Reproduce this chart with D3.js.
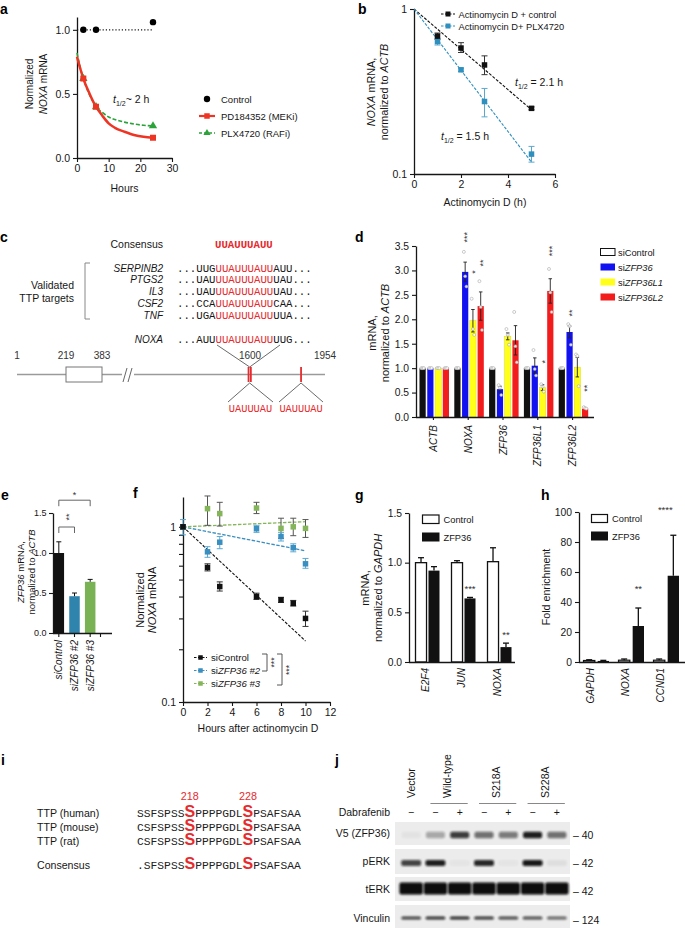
<!DOCTYPE html>
<html><head><meta charset="utf-8">
<script src="https://cdn.jsdelivr.net/npm/d3@7/dist/d3.min.js"></script>
<style>html,body{margin:0;padding:0;background:#fff}svg{display:block}</style>
</head><body>
<svg id="fig" width="685" height="928"></svg>
<script>
// ================= DATA =================
// panel a
const aCtrlHours = [2, 6, 24];
const aCtrlVals = [1.0, 1.0, 1.06];
const aCtrlLineHours = [0, 24];
const aCtrlLineVals = [1.0, 1.0];
const aPtHours = [2, 6, 24];
const aMEKiVals = [0.62, 0.40, 0.158];
const aRAFiVals = [0.62, 0.40, 0.25];
const aFitHours = [0, 1, 2, 4, 6, 8, 10, 12, 15, 18, 21, 24];
const aMEKiFit = [0.79, 0.70, 0.62, 0.50, 0.40, 0.33, 0.27, 0.235, 0.205, 0.18, 0.165, 0.158];
const aRAFiFit = [0.82, 0.71, 0.62, 0.49, 0.40, 0.355, 0.32, 0.30, 0.28, 0.265, 0.255, 0.25];
const aXTicks = [0, 10, 20, 30];
const aYTicks = [0, 0.5, 1.0];
const aLegend = ['Control', 'PD184352 (MEKi)', 'PLX4720 (RAFi)'];
// panel b
const bHours = [1, 2, 3, 5];
const bCtrl = [0.685, 0.58, 0.458, 0.25];
const bCtrlLo = [0.655, 0.545, 0.40, 0.245];
const bCtrlHi = [0.715, 0.625, 0.52, 0.255];
const bPlx = [0.635, 0.428, 0.275, 0.132];
const bPlxLo = [0.605, 0.418, 0.222, 0.118];
const bPlxHi = [0.665, 0.438, 0.33, 0.147];
const bFitHours = [0, 5];
const bCtrlFit = [1, 0.245];
const bPlxFit = [1, 0.118];
const bXTicks = [0, 2, 4, 6];
const bYTicks = [0.1, 1];
const bLegend = ['Actinomycin D + control', 'Actinomycin D+ PLX4720'];
// panel c
const cGenes = ['SERPINB2', 'PTGS2', 'IL3', 'CSF2', 'TNF'];
const cLeft = ['...UUG', '...UAU', '...UAU', '...CCA', '...UGA'];
const cCore = 'UUAUUUAUU';
const cRight = ['AUU...', 'UAU...', 'UAU...', 'CAA...', 'UUA...'];
const cNoxa = ['...AUU', 'UUAUUUAUU', 'UUG...'];
const cMapTicks = [1, 219, 383, 1600, 1954];
const cCds = [219, 383];
const cSites = [1588, 1604, 1841];
const cSiteSeq = ['UAUUUAU', 'UAUUUAU'];
// panel d
const dGenes = ['ACTB', 'NOXA', 'ZFP36', 'ZFP36L1', 'ZFP36L2'];
const dSeries = ['siControl', 'siZFP36', 'siZFP36L1', 'siZFP36L2'];
const dControl = [1, 1, 1, 1, 1];
const dZFP36 = [1, 2.97, 0.57, 1.05, 1.74];
const dL1 = [1, 1.97, 1.65, 0.60, 1.02];
const dL2 = [1, 2.27, 1.57, 2.58, 0.17];
const dControlErr = [0.01, 0.01, 0.01, 0.01, 0.01];
const dZFP36Err = [0.01, 0.2, 0.06, 0.16, 0.12];
const dL1Err = [0.01, 0.23, 0.07, 0.06, 0.2];
const dL2Err = [0.01, 0.29, 0.3, 0.25, 0.02];
const dControlPts = [[1,1,1],[1,1,1],[1,1,1],[1,1,1],[1,1,1]];
const dZFP36Pts = [[1,1,1],[3.38,2.88,2.67],[0.65,0.6,0.45],[1.37,0.98,0.85],[1.9,1.86,1.48]];
const dL1Pts = [[1,1,1],[2.42,1.8,1.68],[1.8,1.68,1.48],[0.67,0.62,0.52],[1.28,1.25,0.63]];
const dL2Pts = [[1,1,1],[2.78,2.25,1.78],[2.15,1.45,1.12],[3.03,2.55,2.15],[0.2,0.18,0.17]];
const dStarGene = ['NOXA', 'NOXA', 'NOXA', 'ZFP36L1', 'ZFP36L1', 'ZFP36L2', 'ZFP36L2'];
const dStarSeries = ['siZFP36', 'siZFP36L1', 'siZFP36L2', 'siZFP36L1', 'siZFP36L2', 'siZFP36', 'siZFP36L2'];
const dStarText = ['***', '*', '**', '*', '***', '**', '**'];
const dStarY = [3.68, 2.97, 3.15, 1.13, 3.4, 2.13, 0.59];
const dYTicks = [0, 0.5, 1, 1.5, 2, 2.5, 3, 3.5];
// panel e
const eCats = ['siControl', 'siZFP36 #2', 'siZFP36 #3'];
const eVals = [1.0, 0.46, 0.64];
const eErr = [0.14, 0.04, 0.03];
const eSigFrom = [0, 0];
const eSigTo = [2, 1];
const eSigText = ['*', '**'];
const eSigY = [1.66, 1.325];
const eYTicks = [0, 0.5, 1.0, 1.5];
// panel f
const fHours = [0, 2, 3, 6, 8, 9, 10];
const fCtrl = [1, 0.586, 0.456, 0.40, 0.383, 0.366, 0.30];
const fCtrlLo = [0.97, 0.56, 0.43, 0.385, 0.37, 0.353, 0.27];
const fCtrlHi = [1.03, 0.615, 0.485, 0.418, 0.396, 0.38, 0.33];
const fZ2 = [1, 0.72, 0.817, 0.975, 0.88, 0.76, 0.615];
const fZ2Lo = [0.9, 0.67, 0.75, 0.93, 0.83, 0.72, 0.58];
const fZ2Hi = [1.1, 0.77, 0.88, 1.02, 0.93, 0.80, 0.66];
const fZ3 = [1, 1.27, 1.19, 1.28, 0.98, 1.0, 0.98];
const fZ3Lo = [1, 1.02, 1.01, 1.19, 0.86, 0.89, 0.87];
const fZ3Hi = [1, 1.5, 1.38, 1.38, 1.12, 1.12, 1.10];
const fFitHours = [0, 10];
const fCtrlFit = [1, 0.223];
const fZ2Fit = [1, 0.73];
const fZ3Fit = [1, 1.07];
const fXTicks = [0, 2, 4, 6, 8, 10, 12];
const fYTicks = [0.1, 0.2, 0.3, 0.4, 0.5, 0.6, 0.7, 0.8, 0.9, 1];
// panel g
const gGenes = ['E2F4', 'JUN', 'NOXA'];
const gControl = [1.0, 1.0, 1.01];
const gControlErr = [0.05, 0.02, 0.14];
const gZFP = [0.92, 0.64, 0.15];
const gZFPErr = [0.04, 0.01, 0.04];
const gStars = ['', '***', '**'];
const gStarY = [0, 0.755, 0.29];
const gYTicks = [0, 0.5, 1.0, 1.5];
// panel h
const hGenes = ['GAPDH', 'NOXA', 'CCND1'];
const hControl = [1.0, 1.2, 1.2];
const hControlErr = [0.5, 0.8, 0.8];
const hZFP = [0.7, 24, 57.5];
const hZFPErr = [0.4, 12, 27];
const hStars = ['', '**', '****'];
const hStarY = [0, 50, 102.5];
const hYTicks = [0, 20, 40, 60, 80, 100];
// panel i
const iSpecies = ['TTP (human)', 'TTP (mouse)', 'TTP (rat)', 'Consensus'];
const iPre = ['SSFSPSS', 'CSFSPSS', 'CSFSPSS', '.SFSPSS'];
const iMid = 'PPPPGDL';
const iPost = 'PSAFSAA';
const iSites = ['218', '228'];
// panel j
const jLanes = ['Vector', 'WT-', 'WT+', 'S218A-', 'S218A+', 'S228A-', 'S228A+'];
const jDabrafenib = ['\u2212', '\u2212', '+', '\u2212', '+', '\u2212', '+'];
const jGroups = ['Vector', 'Wild-type', 'S218A', 'S228A'];
const jGroupLanes = [[0, 0], [1, 2], [3, 4], [5, 6]];
const jRows = ['V5 (ZFP36)', 'pERK', 'tERK', 'Vinculin'];
const jMW = ['40', '42', '42', '124'];
const jV5 = [0.04, 0.3, 0.78, 0.55, 0.5, 0.92, 0.55];
const jPERK = [0.75, 0.92, 0.03, 0.88, 0.03, 0.95, 0.06];
const jTERK = [1, 1, 1, 1, 1, 1, 1];
const jVinc = [0.75, 0.82, 0.85, 0.8, 0.72, 0.7, 0.6];

// ================= HELPERS =================
const FONT = '"Liberation Sans", Arial, Helvetica, sans-serif';
const MONO = '"Liberation Mono", "Courier New", monospace';
const RED = '#e62a2d';
const INK = '#161616';
const svg = d3.select('#fig').attr('font-family', FONT);
const defs = svg.append('defs');
defs.append('filter').attr('id', 'blur').attr('x', '-30%').attr('y', '-80%').attr('width', '160%').attr('height', '260%')
  .append('feGaussianBlur').attr('stdDeviation', 1.2);

function rich(g, x, y, parts, attrs) {
  const t = g.append('text').attr('x', x).attr('y', y).attr('fill', INK);
  if (attrs) for (const k in attrs) t.attr(k, attrs[k]);
  (Array.isArray(parts) ? parts : [parts]).forEach(p => {
    if (typeof p === 'string') { t.append('tspan').text(p); return; }
    const s = t.append('tspan').text(p.t);
    if (p.i) s.attr('font-style', 'italic');
    if (p.b) s.attr('font-weight', 'bold');
    if (p.fs) s.attr('font-size', p.fs);
    if (p.ff) s.attr('font-family', p.ff);
    if (p.fill) s.attr('fill', p.fill);
    if (p.dy) s.attr('dy', p.dy);
  });
  return t;
}
function vrich(g, bx, cy, parts, attrs) {
  const t = rich(g, 0, 0, parts, Object.assign({ 'text-anchor': 'middle' }, attrs || {}));
  t.attr('transform', `translate(${bx},${cy}) rotate(-90)`);
  return t;
}
function axisStyle(g, fs) {
  g.attr('font-family', FONT).attr('font-size', fs || 10);
  g.select('path.domain').attr('stroke', INK).attr('stroke-width', 1.3);
  g.selectAll('.tick line').attr('stroke', INK).attr('stroke-width', 1.1);
  g.selectAll('.tick text').attr('fill', INK);
}
function vline(g, x, y1, y2, col, w) { return g.append('line').attr('x1', x).attr('x2', x).attr('y1', y1).attr('y2', y2).attr('stroke', col).attr('stroke-width', w || 1); }
function hline(g, x1, x2, y, col, w) { return g.append('line').attr('x1', x1).attr('x2', x2).attr('y1', y).attr('y2', y).attr('stroke', col).attr('stroke-width', w || 1); }
function errBar(g, x, yA, yB, cap, col, w, both) {
  vline(g, x, yA, yB, col, w);
  hline(g, x - cap / 2, x + cap / 2, yB, col, w);
  if (both !== false) hline(g, x - cap / 2, x + cap / 2, yA, col, w);
}
function square(g, cx, cy, s, col) { return g.append('rect').attr('x', cx - s / 2).attr('y', cy - s / 2).attr('width', s).attr('height', s).attr('fill', col); }
function panelLabel(x, y, t) { svg.append('text').attr('x', x).attr('y', y).attr('font-size', 14).attr('font-weight', 'bold').attr('fill', '#000').text(t); }
function rotLabels(g, xs, labels, yTop, fs, italic) {
  labels.forEach((l, i) => {
    const t = rich(g, 0, 0, italic ? [{ t: l, i: true }] : l, { 'text-anchor': 'end', 'font-size': fs });
    t.attr('transform', `translate(${xs[i] + 3.6},${yTop}) rotate(-90)`);
  });
}

// ================= PANEL a =================
(function () {
  panelLabel(0, 14, 'a');
  const g = svg.append('g');
  const x = d3.scaleLinear().domain([0, 30]).range([77, 172]);
  const y = d3.scaleLinear().domain([0, 1.1]).range([158, 17]);
  g.append('g').attr('transform', 'translate(0,158)').call(d3.axisBottom(x).tickValues(aXTicks).tickFormat(d3.format('d')).tickSize(4).tickSizeOuter(0)).call(axisStyle, 10.5);
  g.append('g').attr('transform', 'translate(77,0)').call(d3.axisLeft(y).tickValues(aYTicks).tickFormat(d3.format('.1f')).tickSize(4).tickSizeOuter(0)).call(axisStyle, 10.5);
  const ln = d3.line().x(d => x(d[0])).y(d => y(d[1]));
  const lc = d3.line().x(d => x(d[0])).y(d => y(d[1])).curve(d3.curveMonotoneX);
  g.append('path').attr('d', ln(d3.zip(aCtrlLineHours, aCtrlLineVals))).attr('fill', 'none').attr('stroke', INK).attr('stroke-width', 1.2).attr('stroke-dasharray', '1.2,2');
  g.append('path').attr('d', lc(d3.zip(aFitHours, aRAFiFit))).attr('fill', 'none').attr('stroke', '#2ca33a').attr('stroke-width', 1.6).attr('stroke-dasharray', '4,2');
  g.append('path').attr('d', lc(d3.zip(aFitHours, aMEKiFit))).attr('fill', 'none').attr('stroke', '#ee3524').attr('stroke-width', 2.5);
  const tri = d3.symbol().type(d3.symbolTriangle).size(30);
  aPtHours.forEach((h, i) => g.append('path').attr('d', tri()).attr('transform', `translate(${x(h)},${y(aRAFiVals[i])})`).attr('fill', '#2ca33a'));
  aPtHours.forEach((h, i) => square(g, x(h), y(aMEKiVals[i]), 6, '#ee3524'));
  aCtrlHours.forEach((h, i) => g.append('circle').attr('cx', x(h)).attr('cy', y(aCtrlVals[i])).attr('r', 3.2).attr('fill', '#000'));
  rich(g, 113, 103, [{ t: 't', i: true }, { t: '1/2', fs: 7, dy: 3 }, { t: '~ 2 h', dy: -3 }], { 'font-size': 10.5 });
  vrich(g, 33, 84, 'Normalized', { 'font-size': 10 });
  vrich(g, 46.5, 84, [{ t: 'NOXA', i: true }, ' mRNA'], { 'font-size': 10 });
  rich(g, 124.5, 192, 'Hours', { 'font-size': 10.5, 'text-anchor': 'middle' });
  // legend
  g.append('circle').attr('cx', 207).attr('cy', 99).attr('r', 3.2).attr('fill', '#000');
  hline(g, 199, 215, 116, '#ee3524', 2.2);
  square(g, 207, 116, 5.5, '#ee3524');
  g.append('line').attr('x1', 199).attr('x2', 215).attr('y1', 133).attr('y2', 133).attr('stroke', '#2ca33a').attr('stroke-width', 1.4).attr('stroke-dasharray', '3,2');
  g.append('path').attr('d', d3.symbol().type(d3.symbolTriangle).size(22)()).attr('transform', 'translate(207,133)').attr('fill', '#2ca33a');
  aLegend.forEach((t, i) => rich(g, 221, 102.5 + i * 17, t, { 'font-size': 9.5 }));
})();

// ================= PANEL b =================
(function () {
  panelLabel(358, 14, 'b');
  const g = svg.append('g');
  const x = d3.scaleLinear().domain([0, 6]).range([414, 555]);
  const y = d3.scaleLog().domain([0.1, 1]).range([174, 9]);
  g.append('g').attr('transform', 'translate(0,174)').call(d3.axisBottom(x).tickValues(bXTicks).tickFormat(d3.format('d')).tickSize(4).tickSizeOuter(0)).call(axisStyle, 10.5);
  g.append('g').attr('transform', 'translate(414,0)').call(d3.axisLeft(y).tickValues(bYTicks).tickFormat(d => d === 1 ? '1' : '0.1').tickSize(4).tickSizeOuter(0)).call(axisStyle, 10.5);
  const ln = d3.line().x(d => x(d[0])).y(d => y(d[1]));
  g.append('path').attr('d', ln(d3.zip(bFitHours, bCtrlFit))).attr('stroke', '#111').attr('stroke-width', 1.1).attr('stroke-dasharray', '3,1.5').attr('fill', 'none');
  g.append('path').attr('d', ln(d3.zip(bFitHours, bPlxFit))).attr('stroke', '#2f8fbd').attr('stroke-width', 1.1).attr('stroke-dasharray', '3,1.5').attr('fill', 'none');
  bHours.forEach((h, i) => {
    errBar(g, x(h), y(bPlxLo[i]), y(bPlxHi[i]), 6, '#5aa8cf', 1);
    errBar(g, x(h), y(bCtrlLo[i]), y(bCtrlHi[i]), 6, '#333', 1);
  });
  bHours.forEach((h, i) => square(g, x(h), y(bPlx[i]), 5.5, '#2f8fbd'));
  bHours.forEach((h, i) => square(g, x(h), y(bCtrl[i]), 5.5, '#111'));
  // legend
  g.append('line').attr('x1', 441).attr('x2', 455).attr('y1', 14).attr('y2', 14).attr('stroke', '#111').attr('stroke-dasharray', '2.5,1.5');
  square(g, 448, 14, 5, '#111');
  g.append('line').attr('x1', 441).attr('x2', 455).attr('y1', 26).attr('y2', 26).attr('stroke', '#2f8fbd').attr('stroke-dasharray', '2.5,1.5');
  square(g, 448, 26, 5, '#2f8fbd');
  bLegend.forEach((t, i) => rich(g, 458.5, 17.5 + i * 12, t, { 'font-size': 9.3 }));
  rich(g, 515, 86, [{ t: 't', i: true }, { t: '1/2', fs: 7, dy: 3 }, { t: ' = 2.1 h', dy: -3 }], { 'font-size': 10.5 });
  rich(g, 441, 140, [{ t: 't', i: true }, { t: '1/2', fs: 7, dy: 3 }, { t: ' = 1.5 h', dy: -3 }], { 'font-size': 10.5 });
  vrich(g, 375, 92, [{ t: 'NOXA', i: true }, ' mRNA,'], { 'font-size': 10.8 });
  vrich(g, 387.5, 92, ['normalized to ', { t: 'ACTB', i: true }], { 'font-size': 10.8 });
  rich(g, 485, 206, 'Actinomycin D (h)', { 'font-size': 10.5, 'text-anchor': 'middle' });
})();

// ================= PANEL c =================
(function () {
  panelLabel(0, 242, 'c');
  const g = svg.append('g');
  const fs = 10.7;
  rich(g, 163, 248, 'Consensus', { 'font-size': 10.5, 'text-anchor': 'end' });
  rich(g, 215, 248, cCore, { 'font-size': fs, 'font-family': MONO, 'font-weight': 'bold', fill: RED });
  const rowY = d3.scalePoint().domain(cGenes).range([271.5, 318.5]);
  cGenes.forEach((gn, i) => {
    rich(g, 163, rowY(gn), [{ t: gn, i: true }], { 'font-size': 10, 'text-anchor': 'end' });
    rich(g, 177, rowY(gn), [cLeft[i], { t: cCore, fill: RED }, cRight[i]], { 'font-size': fs, 'font-family': MONO });
  });
  rich(g, 163, 342.5, [{ t: 'NOXA', i: true }], { 'font-size': 10, 'text-anchor': 'end' });
  rich(g, 177, 342.5, [cNoxa[0], { t: cNoxa[1], fill: RED }, cNoxa[2]], { 'font-size': fs, 'font-family': MONO });
  rich(g, 74, 288.5, 'Validated', { 'font-size': 10.5, 'text-anchor': 'end' });
  rich(g, 74, 301.5, 'TTP targets', { 'font-size': 10.5, 'text-anchor': 'end' });
  g.append('path').attr('d', 'M90,263H85V319H90').attr('fill', 'none').attr('stroke', '#888').attr('stroke-width', 1);
  // gene map
  const m = d3.scaleLinear().domain(cMapTicks).range([17, 66, 102, 250, 325]);
  hline(g, m(1), m(1954), 374.5, '#9a9a9a', 1.3);
  g.append('rect').attr('x', m(cCds[0])).attr('y', 367).attr('width', m(cCds[1]) - m(cCds[0])).attr('height', 15).attr('fill', '#fff').attr('stroke', '#777').attr('stroke-width', 1);
  cMapTicks.forEach(t => rich(g, m(t), 359, String(t), { 'font-size': 10, 'text-anchor': 'middle', fill: '#333' }));
  g.append('rect').attr('x', 122).attr('y', 368).attr('width', 12).attr('height', 13).attr('fill', '#fff');
  g.append('path').attr('d', 'M123,382L127,368M128,382L132,368').attr('stroke', '#555').attr('stroke-width', 0.9);
  cSites.forEach(s => vline(g, m(s), 367, 382, RED, 1.8));
  // connectors
  const mid12 = (m(cSites[0]) + m(cSites[1])) / 2;
  g.append('path').attr('d', `M217,345L${mid12},367L280,345`).attr('fill', 'none').attr('stroke', '#444').attr('stroke-width', 0.8);
  g.append('path').attr('d', `M228,402L${mid12},383L273,402`).attr('fill', 'none').attr('stroke', '#444').attr('stroke-width', 0.8);
  g.append('path').attr('d', `M279,402L${m(cSites[2])},383L323,402`).attr('fill', 'none').attr('stroke', '#444').attr('stroke-width', 0.8);
  rich(g, 250.5, 412, cSiteSeq[0], { 'font-size': 10.3, 'font-family': MONO, fill: RED, 'text-anchor': 'middle' });
  rich(g, m(cSites[2]), 412, cSiteSeq[1], { 'font-size': 10.3, 'font-family': MONO, fill: RED, 'text-anchor': 'middle' });
})();

// ================= PANEL d =================
(function () {
  panelLabel(355, 242, 'd');
  const g = svg.append('g');
  const y = d3.scaleLinear().domain([0, 3.5]).range([417, 246]);
  const x0 = d3.scaleBand().domain(dGenes).range([416, 590]);
  const x1 = d3.scaleBand().domain(dSeries).range([3.5, 33]).paddingInner(0.2);
  const colors = ['#111111', '#1212f0', '#ffff1a', '#f21c1c'];
  const vals = [dControl, dZFP36, dL1, dL2];
  const errs = [dControlErr, dZFP36Err, dL1Err, dL2Err];
  const pts = [dControlPts, dZFP36Pts, dL1Pts, dL2Pts];
  dGenes.forEach((gn, gi) => {
    dSeries.forEach((s, si) => {
      const bx = x0(gn) + x1(s), bw = x1.bandwidth(), v = vals[si][gi];
      g.append('rect').attr('x', bx).attr('y', y(v)).attr('width', bw).attr('height', y(0) - y(v)).attr('fill', colors[si]).attr('stroke', si === 2 ? '#d8d000' : 'none').attr('stroke-width', 0.4);
    });
  });
  dGenes.forEach((gn, gi) => {
    dSeries.forEach((s, si) => {
      const cx = x0(gn) + x1(s) + x1.bandwidth() / 2, v = vals[si][gi], e = errs[si][gi];
      if (e > 0.02) errBar(g, cx, y(v - e), y(v + e), 3.5, '#222', 0.9);
      pts[si][gi].forEach((p, k) => g.append('circle').attr('cx', cx + (k - 1) * 1.3).attr('cy', y(p)).attr('r', 1.5).attr('fill', '#fff').attr('fill-opacity', 0.85).attr('stroke', '#999').attr('stroke-width', 0.5));
    });
  });
  dStarGene.forEach((gn, i) => {
    const cx = x0(gn) + x1(dStarSeries[i]) + x1.bandwidth() / 2;
    vrich(g, cx + 5, y(dStarY[i]), dStarText[i], { 'font-size': 9, fill: '#333' });
  });
  const ax = g.append('g').attr('transform', 'translate(0,417)').call(d3.axisBottom(x0).tickSize(3).tickSizeOuter(0).tickFormat('')).call(axisStyle);
  ax.select('path.domain').attr('d', 'M416,0.5H594');
  g.append('g').attr('transform', 'translate(416,0)').call(d3.axisLeft(y).tickValues(dYTicks).tickFormat(d3.format('.1f')).tickSize(4).tickSizeOuter(0)).call(axisStyle, 10.3);
  rotLabels(g, dGenes.map(d => x0(d) + x0.bandwidth() / 2), dGenes, 425, 10, true);
  vrich(g, 376, 333, 'mRNA,', { 'font-size': 11 });
  vrich(g, 388.5, 333, ['normalized to ', { t: 'ACTB', i: true }], { 'font-size': 11 });
  // legend
  const lab = [['siControl'], ['si', { t: 'ZFP36', i: true }], ['si', { t: 'ZFP36L1', i: true }], ['si', { t: 'ZFP36L2', i: true }]];
  dSeries.forEach((s, i) => {
    g.append('rect').attr('x', 600.5).attr('y', 248.5 + i * 15).attr('width', 14.5).attr('height', 7).attr('fill', i === 0 ? '#fff' : colors[i]).attr('stroke', i === 0 ? '#111' : 'none');
    rich(g, 618, 255.5 + i * 15, lab[i], { 'font-size': 9.3 });
  });
})();

// ================= PANEL e =================
(function () {
  panelLabel(1, 500, 'e');
  const g = svg.append('g');
  const y = d3.scaleLinear().domain([0, 1.5]).range([633, 513]);
  const x = d3.scaleBand().domain(eCats).range([52, 97]).paddingInner(0.33).paddingOuter(0.1);
  const cols = ['#111111', '#2f84ae', '#79b254'];
  eCats.forEach((c, i) => {
    g.append('rect').attr('x', x(c)).attr('y', y(eVals[i])).attr('width', x.bandwidth()).attr('height', y(0) - y(eVals[i])).attr('fill', cols[i]);
    errBar(g, x(c) + x.bandwidth() / 2, y(eVals[i]), y(eVals[i] + eErr[i]), 5, '#111', 1, false);
  });
  const ax = g.append('g').attr('transform', 'translate(0,633)').call(d3.axisBottom(x).tickSize(4).tickSizeOuter(0).tickFormat('')).call(axisStyle);
  ax.select('path.domain').attr('d', 'M53,0.5H112');
  ax.append('line').attr('x1', 100.5).attr('x2', 100.5).attr('y1', 0).attr('y2', 4).attr('stroke', INK).attr('stroke-width', 1.1);
  g.append('g').attr('transform', 'translate(53,0)').call(d3.axisLeft(y).tickValues(eYTicks).tickFormat(d3.format('.1f')).tickSize(4).tickSizeOuter(0).tickPadding(2.5)).call(axisStyle, 9);
  eSigFrom.forEach((f, i) => {
    const xa = x(eCats[f]) + x.bandwidth() / 2, xb = x(eCats[eSigTo[i]]) + x.bandwidth() / 2, yy = y(eSigY[i]);
    g.append('path').attr('d', `M${xa},${yy + 6}V${yy}H${xb}V${yy + 6}`).attr('fill', 'none').attr('stroke', '#555').attr('stroke-width', 0.9);
    if (i === 0) rich(g, (xa + xb) / 2, yy - 2, eSigText[i], { 'font-size': 9, 'text-anchor': 'middle', fill: '#333' });
    else vrich(g, (xa + xb) / 2 + 5, yy - 10, eSigText[i], { 'font-size': 9, fill: '#333' });
  });
  rotLabels(g, eCats.map(c => x(c) + x.bandwidth() / 2), eCats, 640, 10, true);
  vrich(g, 23.5, 572, [{ t: 'ZFP36', i: true }, ' mRNA,'], { 'font-size': 9.5 });
  vrich(g, 34.5, 572, ['normalized to ', { t: 'ACTB', i: true }], { 'font-size': 9.5 });
})();

// ================= PANEL f =================
(function () {
  panelLabel(133, 498, 'f');
  const g = svg.append('g');
  const x = d3.scaleLinear().domain([0, 12]).range([183, 330]);
  const y = d3.scaleLog().domain([0.1, 1.48]).range([702, 497]);
  g.append('g').attr('transform', 'translate(0,702)').call(d3.axisBottom(x).tickValues(fXTicks).tickFormat(d3.format('d')).tickSize(4).tickSizeOuter(0)).call(axisStyle, 10.5);
  g.append('g').attr('transform', 'translate(183,0)').call(d3.axisLeft(y).tickValues(fYTicks).tickFormat(d => d === 1 ? '1' : (d === 0.1 ? '0.1' : '')).tickSize(4).tickSizeOuter(0)).call(axisStyle, 10.5);
  const ln = d3.line().x(d => x(d[0])).y(d => y(d[1]));
  const cBlk = '#111', cBlu = '#3a8fc1', cGrn = '#84b659';
  g.append('path').attr('d', ln(d3.zip(fFitHours, fCtrlFit))).attr('stroke', cBlk).attr('stroke-width', 1.1).attr('stroke-dasharray', '3,1.5').attr('fill', 'none');
  g.append('path').attr('d', ln(d3.zip(fFitHours, fZ2Fit))).attr('stroke', cBlu).attr('stroke-width', 1.3).attr('stroke-dasharray', '3.5,1.5').attr('fill', 'none');
  g.append('path').attr('d', ln(d3.zip(fFitHours, fZ3Fit))).attr('stroke', cGrn).attr('stroke-width', 1.3).attr('stroke-dasharray', '3.5,1.5').attr('fill', 'none');
  fHours.forEach((h, i) => {
    if (fZ3Hi[i] > fZ3Lo[i]) errBar(g, x(h), y(fZ3Lo[i]), y(fZ3Hi[i]), 6, '#555', 1);
    errBar(g, x(h), y(fZ2Lo[i]), y(fZ2Hi[i]), 6, '#5aa8d2', 1);
    errBar(g, x(h), y(fCtrlLo[i]), y(fCtrlHi[i]), 6, '#333', 1);
  });
  fHours.forEach((h, i) => square(g, x(h), y(fZ3[i]), 5.5, cGrn));
  fHours.forEach((h, i) => square(g, x(h), y(fZ2[i]), 5.5, cBlu));
  fHours.forEach((h, i) => square(g, x(h), y(fCtrl[i]), 5.5, cBlk));
  // legend
  const lg = [[cBlk, ['siControl']], [cBlu, ['si', { t: 'ZFP36 #2', i: true }]], [cGrn, ['si', { t: 'ZFP36 #3', i: true }]]];
  lg.forEach((l, i) => {
    const yy = 657.5 + i * 13;
    g.append('line').attr('x1', 194).attr('x2', 207).attr('y1', yy).attr('y2', yy).attr('stroke', l[0]).attr('stroke-width', 1.2).attr('stroke-dasharray', '2.5,1.5');
    square(g, 200.5, yy, 4.5, l[0]);
    rich(g, 211, yy + 3.5, l[1], { 'font-size': 9.6 });
  });
  g.append('path').attr('d', 'M262,654H267V671H262').attr('fill', 'none').attr('stroke', '#444').attr('stroke-width', 0.9);
  g.append('path').attr('d', 'M277,654H282V685H277').attr('fill', 'none').attr('stroke', '#444').attr('stroke-width', 0.9);
  vrich(g, 277, 662.5, '***', { 'font-size': 8.5, fill: '#333' });
  vrich(g, 292, 670, '***', { 'font-size': 8.5, fill: '#333' });
  vrich(g, 143.5, 600, 'Normalized', { 'font-size': 11 });
  vrich(g, 156, 600, [{ t: 'NOXA', i: true }, ' mRNA'], { 'font-size': 11 });
  rich(g, 258, 732, 'Hours after actinomycin D', { 'font-size': 10.5, 'text-anchor': 'middle' });
})();

// ================= PANEL g =================
(function () {
  panelLabel(355, 500, 'g');
  const g = svg.append('g');
  const y = d3.scaleLinear().domain([0, 1.5]).range([662, 513]);
  const x0 = d3.scaleBand().domain(gGenes).range([409, 517]);
  const x1 = d3.scaleBand().domain(['Control', 'ZFP36']).range([6.5, 30.5]).paddingInner(0.15);
  gGenes.forEach((gn, i) => {
    const xc = x0(gn) + x1('Control'), xz = x0(gn) + x1('ZFP36'), bw = x1.bandwidth();
    g.append('rect').attr('x', xc).attr('y', y(gControl[i])).attr('width', bw).attr('height', y(0) - y(gControl[i])).attr('fill', '#fff').attr('stroke', '#111').attr('stroke-width', 1.3);
    g.append('rect').attr('x', xz).attr('y', y(gZFP[i])).attr('width', bw).attr('height', y(0) - y(gZFP[i])).attr('fill', '#111');
    errBar(g, xc + bw / 2, y(gControl[i]), y(gControl[i] + gControlErr[i]), 6, '#111', 1.3, false);
    errBar(g, xz + bw / 2, y(gZFP[i]), y(gZFP[i] + gZFPErr[i]), 6, '#111', 1.3, false);
    if (gStars[i]) rich(g, xz + bw / 2, y(gStarY[i]) + 5, gStars[i], { 'font-size': 9.5, 'text-anchor': 'middle', fill: '#333' });
  });
  const ax = g.append('g').attr('transform', 'translate(0,662)').call(d3.axisBottom(x0).tickSize(0).tickSizeOuter(0).tickFormat('')).call(axisStyle);
  ax.select('path.domain').attr('d', 'M409,0.5H515');
  g.append('g').attr('transform', 'translate(409,0)').call(d3.axisLeft(y).tickValues(gYTicks).tickFormat(d3.format('.1f')).tickSize(4).tickSizeOuter(0)).call(axisStyle, 10.3);
  rotLabels(g, gGenes.map(d => x0(d) + x0.bandwidth() / 2 - 2), gGenes, 668, 10, true);
  vrich(g, 369, 588, 'mRNA,', { 'font-size': 11 });
  vrich(g, 381.5, 588, ['normalized to ', { t: 'GAPDH', i: true }], { 'font-size': 11 });
  g.append('rect').attr('x', 422.5).attr('y', 515).attr('width', 16.5).attr('height', 8.5).attr('fill', '#fff').attr('stroke', '#111').attr('stroke-width', 1.2);
  g.append('rect').attr('x', 422).attr('y', 532.5).attr('width', 17.5).attr('height', 9).attr('fill', '#111');
  rich(g, 443.5, 522.5, 'Control', { 'font-size': 9.3 });
  rich(g, 443.5, 540.5, 'ZFP36', { 'font-size': 9.3 });
})();

// ================= PANEL h =================
(function () {
  panelLabel(541, 500, 'h');
  const g = svg.append('g');
  const y = d3.scaleLinear().domain([0, 100]).range([662, 512]);
  const x0 = d3.scaleBand().domain(hGenes).range([579, 684]);
  const x1 = d3.scaleBand().domain(['Control', 'ZFP36']).range([4.5, 30]).paddingInner(0.2);
  hGenes.forEach((gn, i) => {
    const xc = x0(gn) + x1('Control'), xz = x0(gn) + x1('ZFP36'), bw = x1.bandwidth();
    g.append('rect').attr('x', xc).attr('y', y(hControl[i])).attr('width', bw).attr('height', y(0) - y(hControl[i])).attr('fill', '#fff').attr('stroke', '#111').attr('stroke-width', 1.2);
    g.append('rect').attr('x', xz).attr('y', y(hZFP[i])).attr('width', bw).attr('height', y(0) - y(hZFP[i])).attr('fill', '#111');
    errBar(g, xc + bw / 2, y(hControl[i]), y(hControl[i] + hControlErr[i]), 6, '#111', 1.3, false);
    errBar(g, xz + bw / 2, y(hZFP[i]), y(hZFP[i] + hZFPErr[i]), 6, '#111', 1.3, false);
    if (hStars[i]) rich(g, xz + bw / 2 - (i === 2 ? 8 : 0), y(hStarY[i]) + 5, hStars[i], { 'font-size': 9.5, 'text-anchor': 'middle', fill: '#333' });
  });
  const ax = g.append('g').attr('transform', 'translate(0,662)').call(d3.axisBottom(x0).tickSize(0).tickSizeOuter(0).tickFormat('')).call(axisStyle);
  ax.select('path.domain').attr('d', 'M579,0.5H685');
  g.append('g').attr('transform', 'translate(579,0)').call(d3.axisLeft(y).tickValues(hYTicks).tickSize(4).tickSizeOuter(0)).call(axisStyle, 10.3);
  rotLabels(g, hGenes.map(d => x0(d) + x0.bandwidth() / 2 - 6), hGenes, 668, 10, true);
  vrich(g, 550, 587, 'Fold enrichment', { 'font-size': 10.7 });
  g.append('rect').attr('x', 591.5).attr('y', 514.5).attr('width', 16).attr('height', 8).attr('fill', '#fff').attr('stroke', '#111').attr('stroke-width', 1.2);
  g.append('rect').attr('x', 591).attr('y', 531.5).attr('width', 17).attr('height', 9).attr('fill', '#111');
  rich(g, 612, 521.5, 'Control', { 'font-size': 9.3 });
  rich(g, 612, 539.5, 'ZFP36', { 'font-size': 9.3 });
})();

// ================= PANEL i =================
(function () {
  panelLabel(1, 765, 'i');
  const g = svg.append('g');
  const rowY = [816.5, 830.5, 844.5, 869];
  let firstText = null;
  iSpecies.forEach((s, i) => {
    rich(g, 37, rowY[i], s, { 'font-size': 10.6 });
    const t = rich(g, 137, rowY[i], [iPre[i], { t: 'S', ff: FONT, b: true, fs: 16, fill: RED }, iMid, { t: 'S', ff: FONT, b: true, fs: 16, fill: RED }, iPost], { 'font-size': 11.3, 'font-family': MONO, fill: '#222' });
    if (i === 0) firstText = t;
  });
  const node = firstText.node();
  const idx = [iPre[0].length, iPre[0].length + 1 + iMid.length];
  iSites.forEach((s, k) => {
    const ext = node.getExtentOfChar(idx[k]);
    rich(g, ext.x + ext.width / 2, 799.5, s, { 'font-size': 10.8, 'text-anchor': 'middle', fill: RED });
  });
})();

// ================= PANEL j =================
(function () {
  panelLabel(335, 765, 'j');
  const g = svg.append('g');
  const lane = d3.scaleBand().domain(d3.range(jLanes.length)).range([399, 569]);
  const lc = i => lane(i) + lane.bandwidth() / 2;
  jGroups.forEach((gr, k) => {
    const [a, b] = jGroupLanes[k];
    const cx = (lc(a) + lc(b)) / 2;
    const t = rich(g, 0, 0, gr, { 'font-size': 10.5, 'text-anchor': 'start' });
    t.attr('transform', `translate(${cx + 3.8},798) rotate(-90)`);
    if (a !== b) hline(g, lc(a) - 5, lc(b) + 8, 803.5, '#888', 1);
  });
  rich(g, 390, 815.5, 'Dabrafenib', { 'font-size': 10.5, 'text-anchor': 'end' });
  jDabrafenib.forEach((s, i) => rich(g, lc(i), 815.5, s, { 'font-size': 10.5, 'text-anchor': 'middle' }));
  const rows = [jV5, jPERK, jTERK, jVinc];
  const top = [822, 849, 877, 905], hgt = [23, 25, 24, 23], bandY = [835, 863, 888.5, 918], bandH = [6.5, 6, 12, 3.2], bandW = [19, 20, 23.5, 20];
  const labY = [837, 864.5, 893, 921.5];
  rows.forEach((r, ri) => {
    g.append('rect').attr('x', 395).attr('y', top[ri]).attr('width', 175).attr('height', hgt[ri]).attr('fill', '#ececec');
    r.forEach((v, i) => {
      g.append('rect').attr('x', lc(i) - bandW[ri] / 2).attr('y', bandY[ri] - bandH[ri] / 2).attr('width', bandW[ri]).attr('height', bandH[ri])
        .attr('rx', 2).attr('fill', '#0c0c0c').attr('opacity', v).attr('filter', 'url(#blur)');
    });
    rich(g, 390, labY[ri], jRows[ri], { 'font-size': 10.5, 'text-anchor': 'end' });
    rich(g, 573, labY[ri] + 2, '\u2013 ' + jMW[ri], { 'font-size': 10.5 });
  });
})();
</script>
</body></html>
